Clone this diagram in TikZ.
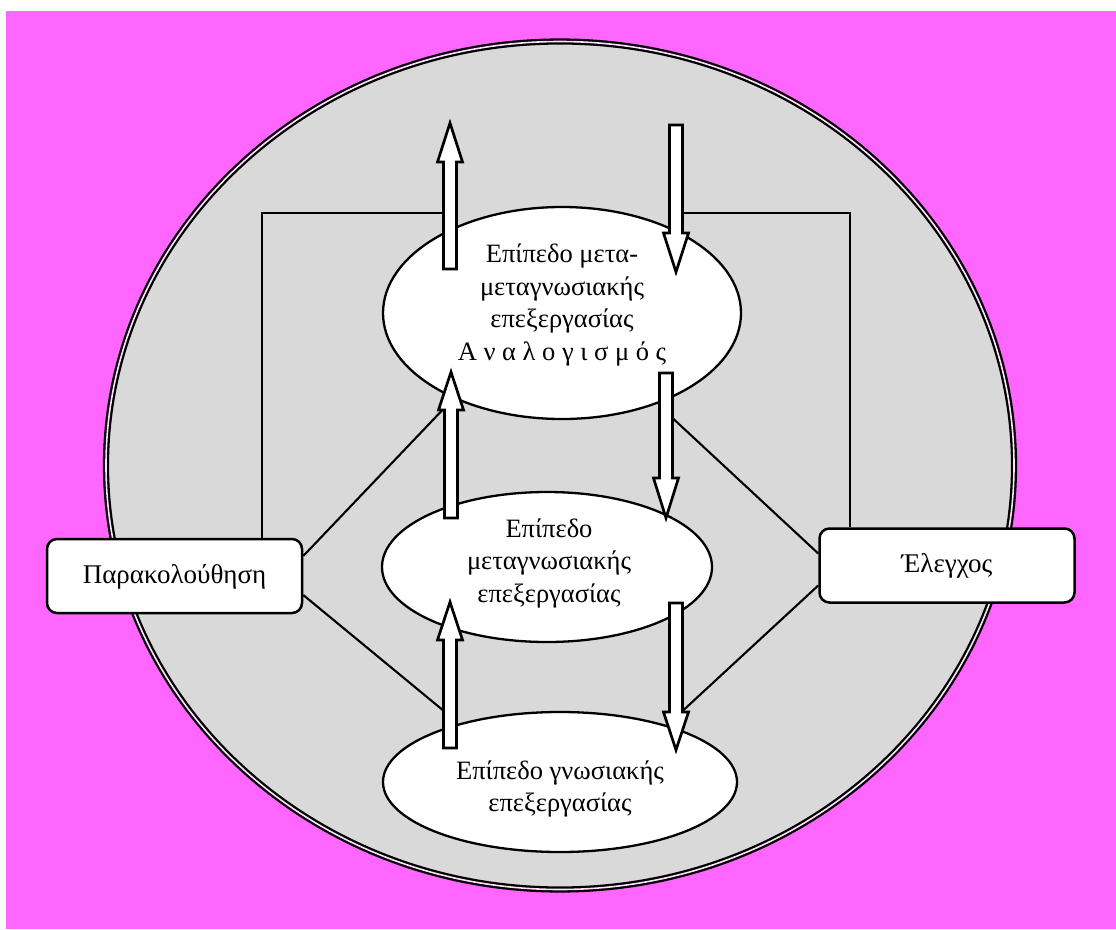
\documentclass[tikz,border=0pt]{standalone}
\usepackage{fontspec}
\setmainfont{Liberation Serif}
\usetikzlibrary{shapes.geometric}
\definecolor{pagebg}{HTML}{FF66FF}
\definecolor{disc}{HTML}{D9D9D9}

\tikzset{
  level/.style={ellipse, draw, line width=2.3pt, fill=white, inner sep=0pt},
  leveltext/.style={align=center, font=\fontsize{26.5}{32.5}\selectfont},
  agent/.style={rectangle, draw, line width=2.5pt, fill=white, rounded corners=10pt,
    minimum width=255pt, minimum height=74pt, font=\fontsize{27}{32}\selectfont,
    text height=16pt, text depth=2pt},
  link/.style={line width=2.1pt},
  flow/.style={draw, line width=2.7pt, fill=white, line join=miter},
}

% block arrow: centre x, tip y, head-base y, tail y
\newcommand{\blockarrow}[4]{%
  \draw[flow] (#1-6.5,#4) -- (#1-6.5,#3) -- (#1-12.5,#3) -- (#1,#2)
    -- (#1+12.5,#3) -- (#1+6.5,#3) -- (#1+6.5,#4) -- cycle;}

\begin{document}
\begin{tikzpicture}[x=1pt,y=-1pt]
\useasboundingbox (0,0) rectangle (1116,929);
\fill[white] (0,0) rectangle (1116,929);
\fill[pagebg] (6,11) rectangle (1116,929);

% outer disc with its double rim
\draw[fill=disc, double=white!80!pagebg, double distance=1.6pt, line width=2.3pt]
  (560,465.5) ellipse [x radius=454, y radius=424];

% anchor points on the block arrows
\coordinate (up1) at (450,213);
\coordinate (dn1) at (676,213);
\coordinate (up2) at (451,401);
\coordinate (dn2) at (666,412);
\coordinate (up3) at (450,716);
\coordinate (dn3) at (676,717);
\coordinate (lk) at (262,0);
\coordinate (rk) at (850,0);

% agents
\node[agent] (mon) at (174.5,576) {Παρακολούθηση};
\node[agent] (ctl) at (947,565.5) {Έλεγχος};

% monitoring and control links
\draw[link] (mon.north -| lk) |- (up1);
\draw[link] (ctl.north -| rk) |- (dn1);
\draw[link] ([yshift=20pt]mon.east) -- (up2);
\draw[link] ([yshift=-19pt]mon.east) -- (up3);
\draw[link] ([yshift=12pt]ctl.west) -- (dn2);
\draw[link] ([yshift=-20pt]ctl.west) -- (dn3);

% processing levels
\node[level, minimum width=358pt, minimum height=212pt] (meta2) at (562,313) {};
\node[level, minimum width=330pt, minimum height=150pt] (meta) at (547,567) {};
\node[level, minimum width=354pt, minimum height=140pt] (cog) at (560,782) {};

\node[leveltext] (t2) at (562,305)
  {Επίπεδο μετα-\\μεταγνωσιακής\\επεξεργασίας\\Α\ ν\ α\ λ\ ο\ γ\ ι\ σ\ μ\ ό\ ς};
\node[leveltext] (t1) at (549,563)
  {Επίπεδο\\μεταγνωσιακής\\επεξεργασίας};
\node[leveltext] (t0) at (560,789)
  {Επίπεδο γνωσιακής\\επεξεργασίας};

% flows between levels
\blockarrow{450}{123}{162}{269}
\blockarrow{676}{272}{233}{125}
\blockarrow{451}{372}{410}{518}
\blockarrow{666}{518}{478}{373}
\blockarrow{450}{602}{640}{748}
\blockarrow{676}{750}{712}{603}
\end{tikzpicture}
\end{document}
